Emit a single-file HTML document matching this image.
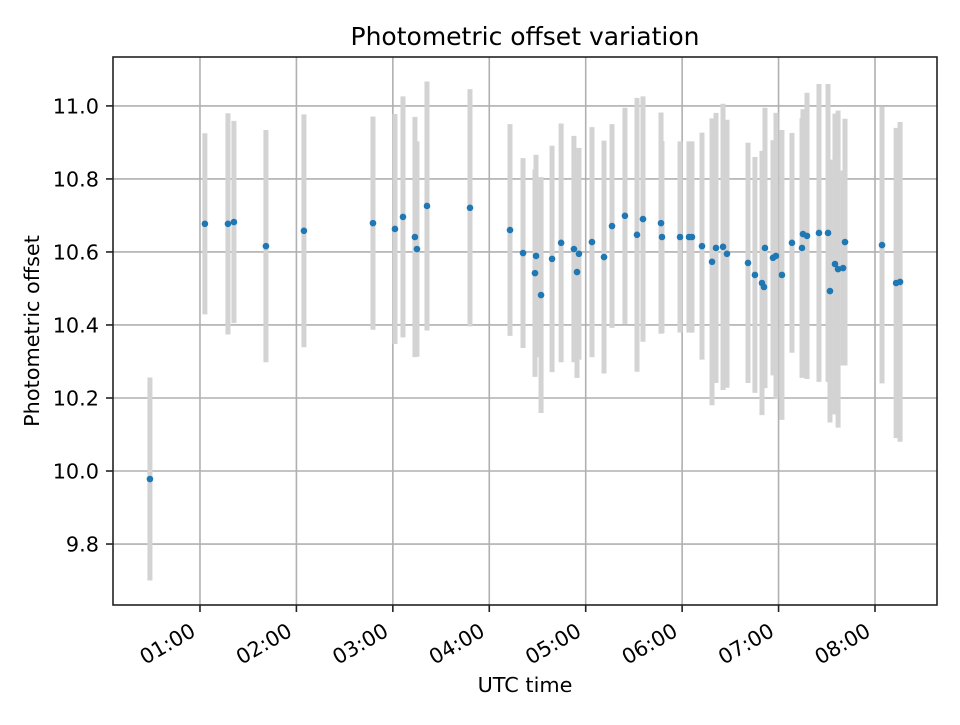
<!DOCTYPE html>
<html><head><meta charset="utf-8"><style>
body{margin:0;background:#fff}
svg text{font-family:"DejaVu Sans","Liberation Sans",sans-serif;fill:#000}
</style></head><body>
<svg id="chart" width="960" height="720" viewBox="0 0 960 720" xmlns="http://www.w3.org/2000/svg">
<rect width="960" height="720" fill="#fff"/>
<text x="525" y="45" style="font-size:25px" text-anchor="middle">Photometric offset variation</text>
<text x="525" y="692" style="font-size:20.8px" text-anchor="middle">UTC time</text>
<text transform="translate(39,331) rotate(-90)" style="font-size:20.8px" text-anchor="middle">Photometric offset</text>
<g id="grid"></g><g id="bars"></g><g id="pts"></g><g id="ticks"></g>
<rect x="113" y="57" width="824" height="548" fill="none" stroke="#222" stroke-width="1.6"/>
</svg>
<script>
const times=[0.481,1.051,1.290,1.352,1.684,2.078,2.794,3.022,3.105,3.229,3.250,3.354,3.800,4.215,4.350,4.474,4.485,4.537,4.651,4.745,4.878,4.910,4.930,5.065,5.190,5.273,5.407,5.532,5.594,5.781,5.791,5.978,6.071,6.102,6.206,6.310,6.351,6.424,6.465,6.683,6.755,6.828,6.849,6.859,6.942,6.973,7.035,7.139,7.243,7.253,7.295,7.419,7.513,7.533,7.585,7.617,7.669,7.689,8.073,8.219,8.260];
const offsets=[9.978,10.677,10.677,10.682,10.616,10.658,10.679,10.663,10.696,10.641,10.608,10.726,10.721,10.660,10.597,10.542,10.589,10.482,10.581,10.625,10.608,10.545,10.595,10.627,10.586,10.671,10.699,10.647,10.690,10.679,10.641,10.641,10.641,10.641,10.616,10.573,10.611,10.614,10.595,10.570,10.537,10.515,10.504,10.611,10.584,10.589,10.537,10.625,10.611,10.649,10.644,10.652,10.652,10.493,10.567,10.553,10.556,10.627,10.619,10.515,10.518];
const errors=[0.278,0.248,0.303,0.277,0.318,0.319,0.292,0.315,0.330,0.329,0.295,0.341,0.325,0.290,0.260,0.284,0.277,0.323,0.310,0.327,0.310,0.290,0.290,0.315,0.319,0.279,0.296,0.375,0.336,0.303,0.263,0.262,0.262,0.262,0.311,0.393,0.370,0.392,0.367,0.329,0.323,0.362,0.273,0.384,0.322,0.392,0.397,0.301,0.356,0.342,0.392,0.408,0.408,0.360,0.412,0.434,0.267,0.338,0.379,0.425,0.438];
const xTickHours=[1,2,3,4,5,6,7,8];
const xTickLabels=["01:00","02:00","03:00","04:00","05:00","06:00","07:00","08:00"];
const yTicks=[9.8,10.0,10.2,10.4,10.6,10.8,11.0];
const yTickLabels=["9.8","10.0","10.2","10.4","10.6","10.8","11.0"];
const X0=113,X1=937,Y0=57,Y1=605,xMin=0.098,xMax=8.643,yMin=9.633,yMax=11.134;
function xs(h){return X0+(h-xMin)/(xMax-xMin)*(X1-X0);}
function ys(v){return Y1-(v-yMin)/(yMax-yMin)*(Y1-Y0);}
const NS="http://www.w3.org/2000/svg";
function mk(t,a,p){const e=document.createElementNS(NS,t);for(const k in a)e.setAttribute(k,a[k]);p.appendChild(e);return e;}
const grid=document.getElementById('grid'),bars=document.getElementById('bars'),pts=document.getElementById('pts'),tk=document.getElementById('ticks');
xTickHours.forEach((h,i)=>{const x=xs(h);
 const g=mk('line',{x1:x,x2:x,y1:Y0,y2:Y1,stroke:'#b0b0b0','stroke-width':1.6},grid);
 
 
 mk('line',{x1:x,x2:x,y1:Y1,y2:Y1+7,stroke:'#222','stroke-width':1.6},tk);
 const ax=x-3,ay=635;
 const t=mk('text',{x:ax,y:ay,style:'font-size:20.8px','text-anchor':'end',transform:`rotate(-30 ${ax} ${ay})`},tk);
 
 
 t.textContent=xTickLabels[i];});
yTicks.forEach((v,i)=>{const y=ys(v);
 const g=mk('line',{x1:X0,x2:X1,y1:y,y2:y,stroke:'#b0b0b0','stroke-width':1.6},grid);
 
 
 mk('line',{x1:X0-7,x2:X0,y1:y,y2:y,stroke:'#222','stroke-width':1.6},tk);
 const t=mk('text',{x:X0-14,y:y+7.5,style:'font-size:20.8px','text-anchor':'end'},tk);
 
 
 t.textContent=yTickLabels[i];});
times.forEach((h,i)=>{const x=xs(h);
 const b=mk('line',{x1:x,x2:x,y1:ys(offsets[i]+errors[i]),y2:ys(offsets[i]-errors[i]),stroke:'#d3d3d3','stroke-width':5},bars);
 
 
 const c=mk('circle',{cx:x,cy:ys(offsets[i]),r:3.3,fill:'#1f77b4'},pts);
 
 });
</script>
</body></html>
